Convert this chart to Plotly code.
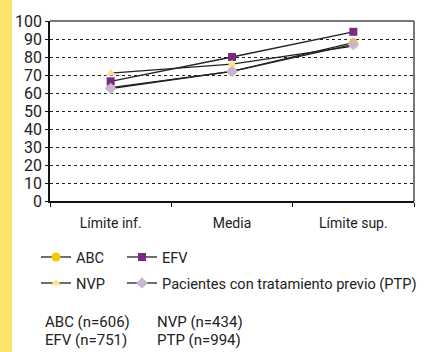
import plotly.graph_objects as go

categories = ["Límite inf.", "Media", "Límite sup."]
abc = [63, 72, 88]
efv = [66.5, 80, 94]
nvp = [71, 76, 86]
ptp = [62.5, 72, 87]
notes = ["ABC (n=606)", "NVP (n=434)", "EFV (n=751)", "PTP (n=994)"]

FONT = "Roboto, Liberation Sans, sans-serif"
W, H = 428, 352
L, R, T, B = 50, 14, 21, 151
pw, ph = W - L - R, H - T - B

fig = go.Figure()
series = [
    ("ABC", abc, "circle", "#F7C600", 9, "legend", 36, 257),
    ("EFV", efv, "square", "#7A2A80", 8, "legend2", 122, 257),
    ("NVP", nvp, "triangle-up", "#FFE29A", 9, "legend3", 36, 283),
    ("Pacientes con tratamiento previo (PTP)", ptp, "diamond", "#C9B6D6", 9, "legend4", 122, 283),
]
legends = {}
for name, vals, sym, col, size, lg, lx, ly in series:
    fig.add_trace(go.Scatter(
        x=categories, y=vals, name=name, mode="lines+markers",
        line=dict(color="#222222", width=1.3),
        marker=dict(symbol=sym, color=col, size=size, line=dict(width=0)),
        legend=lg,
    ))
    legends[lg] = dict(orientation="h", xref="container", yref="container",
                       x=lx / W, y=1 - ly / H, yanchor="middle", xanchor="left",
                       font=dict(family=FONT, size=14.6, color="#222222"),
                       bgcolor="rgba(0,0,0,0)")

fig.update_layout(
    width=W, height=H,
    margin=dict(l=L, r=R, t=T, b=B, autoexpand=False),
    paper_bgcolor="white", plot_bgcolor="white",
    font=dict(family=FONT, size=14, color="#222222"),
    showlegend=True,
    xaxis=dict(range=[-0.5, 2.5], showgrid=False, showline=True, linecolor="#111111", linewidth=1.5,
               ticks="outside", tickson="boundaries", ticklen=4, tickcolor="#111111",
               tickfont=dict(family=FONT, size=14), ticklabelstandoff=8, automargin=False),
    yaxis=dict(range=[0, 100], dtick=10, showgrid=True, gridcolor="#222222", griddash="dot",
               gridwidth=1, showline=True, linecolor="#111111", linewidth=1.5,
               ticks="outside", ticklen=3, tickcolor="#111111",
               tickfont=dict(family=FONT, size=16), zeroline=False, automargin=False),
    **legends,
)

# gray top/right frame
fig.add_shape(type="line", xref="paper", yref="paper", x0=0, x1=1, y0=1, y1=1,
              line=dict(color="#777777", width=2))
fig.add_shape(type="line", xref="paper", yref="paper", x0=1, x1=1, y0=0, y1=1,
              line=dict(color="#777777", width=2))
# yellow stripe on the left
fig.add_shape(type="rect", xref="paper", yref="paper", x0=-L / pw, x1=(12 - L) / pw,
              y0=-B / ph, y1=1 + T / ph, fillcolor="#FFE36A", line=dict(width=0), layer="below")

pos = [(43, 322), (155, 322), (43, 340), (155, 340)]
for txt, (px, py) in zip(notes, pos):
    fig.add_annotation(text=txt, xref="paper", yref="paper", x=(px - L) / pw,
                       y=-(py - T - ph) / ph, xanchor="left", yanchor="middle",
                       showarrow=False, font=dict(family=FONT, size=15, color="#222222"))

fig.write_html("out.html", config={"displayModeBar": False},
               post_script="document.body.style.margin='0';")
